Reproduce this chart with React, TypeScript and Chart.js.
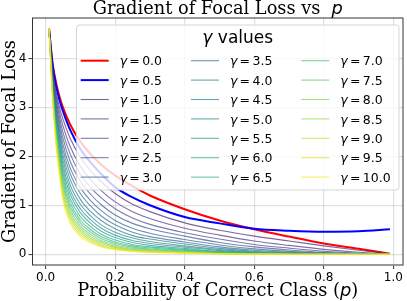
import React, { useEffect, useRef } from "react";
import { Chart, registerables } from "chart.js";

Chart.register(...registerables);

// ---- data ----
const pValues = [0.01, 0.02, 0.03, 0.04, 0.05, 0.07, 0.1, 0.13, 0.16, 0.2, 0.25, 0.3, 0.4, 0.5, 0.6, 0.7, 0.8, 0.9, 0.99];

const gammaLabels = ["0.0", "0.5", "1.0", "1.5", "2.0", "2.5", "3.0", "3.5", "4.0", "4.5", "5.0", "5.5", "6.0", "6.5", "7.0", "7.5", "8.0", "8.5", "9.0", "9.5", "10.0"];

const gamma00 = [4.61, 3.91, 3.51, 3.22, 3.0, 2.66, 2.3, 2.04, 1.83, 1.61, 1.39, 1.2, 0.92, 0.69, 0.51, 0.36, 0.22, 0.11, 0.01];
const gamma05 = [4.6, 3.87, 3.45, 3.15, 2.92, 2.55, 2.15, 1.87, 1.64, 1.37, 1.16, 1.0, 0.76, 0.63, 0.52, 0.48, 0.46, 0.47, 0.51];
const gamma10 = [4.6, 3.8, 3.33, 3.0, 2.76, 2.38, 1.98, 1.7, 1.48, 1.24, 1.02, 0.87, 0.64, 0.49, 0.37, 0.27, 0.17, 0.08, 0.005];
const gamma15 = [4.6, 3.76, 3.26, 2.9, 2.62, 2.21, 1.8, 1.52, 1.3, 1.07, 0.87, 0.73, 0.53, 0.39, 0.27, 0.18, 0.1, 0.04, 0.002];
const gamma20 = [4.6, 3.72, 3.19, 2.8, 2.49, 2.06, 1.64, 1.36, 1.15, 0.93, 0.74, 0.61, 0.44, 0.31, 0.2, 0.125, 0.061, 0.02, 0.001];
const gamma25 = [4.6, 3.69, 3.11, 2.7, 2.37, 1.91, 1.49, 1.22, 1.01, 0.8, 0.63, 0.52, 0.37, 0.24, 0.15, 0.085, 0.037, 0.01, 0];
const gamma30 = [4.6, 3.65, 3.05, 2.61, 2.25, 1.78, 1.36, 1.09, 0.89, 0.69, 0.53, 0.43, 0.3, 0.19, 0.11, 0.058, 0.022, 0.005, 0];
const gamma35 = [4.6, 3.61, 2.98, 2.52, 2.14, 1.66, 1.24, 0.98, 0.78, 0.6, 0.45, 0.36, 0.25, 0.15, 0.082, 0.039, 0.013, 0.003, 0];
const gamma40 = [4.6, 3.58, 2.91, 2.44, 2.03, 1.54, 1.12, 0.87, 0.69, 0.52, 0.38, 0.31, 0.21, 0.12, 0.061, 0.027, 0.008, 0.001, 0];
const gamma45 = [4.6, 3.54, 2.85, 2.36, 1.93, 1.43, 1.02, 0.78, 0.6, 0.45, 0.33, 0.26, 0.17, 0.094, 0.045, 0.018, 0.005, 0, 0];
const gamma50 = [4.6, 3.51, 2.79, 2.27, 1.83, 1.33, 0.93, 0.7, 0.53, 0.39, 0.28, 0.22, 0.144, 0.074, 0.033, 0.012, 0.003, 0, 0];
const gamma55 = [4.6, 3.47, 2.73, 2.2, 1.74, 1.24, 0.85, 0.63, 0.47, 0.34, 0.24, 0.18, 0.12, 0.059, 0.025, 0.008, 0.002, 0, 0];
const gamma60 = [4.6, 3.44, 2.67, 2.12, 1.65, 1.15, 0.77, 0.56, 0.41, 0.29, 0.2, 0.15, 0.099, 0.046, 0.018, 0.006, 0.001, 0, 0];
const gamma65 = [4.6, 3.4, 2.61, 2.05, 1.57, 1.07, 0.7, 0.5, 0.36, 0.25, 0.17, 0.128, 0.082, 0.037, 0.013, 0.004, 0.001, 0, 0];
const gamma70 = [4.6, 3.37, 2.55, 1.98, 1.49, 1.0, 0.64, 0.45, 0.32, 0.22, 0.145, 0.107, 0.068, 0.029, 0.01, 0.003, 0, 0, 0];
const gamma75 = [4.6, 3.33, 2.49, 1.91, 1.42, 0.93, 0.58, 0.4, 0.28, 0.19, 0.123, 0.09, 0.057, 0.023, 0.007, 0.002, 0, 0, 0];
const gamma80 = [4.6, 3.3, 2.44, 1.85, 1.35, 0.86, 0.53, 0.36, 0.25, 0.16, 0.105, 0.076, 0.047, 0.018, 0.005, 0.001, 0, 0, 0];
const gamma85 = [4.6, 3.27, 2.38, 1.79, 1.28, 0.8, 0.48, 0.32, 0.22, 0.14, 0.089, 0.064, 0.039, 0.014, 0.004, 0.001, 0, 0, 0];
const gamma90 = [4.6, 3.24, 2.33, 1.73, 1.21, 0.75, 0.44, 0.29, 0.19, 0.12, 0.076, 0.053, 0.032, 0.011, 0.003, 0.001, 0, 0, 0];
const gamma95 = [4.6, 3.2, 2.28, 1.67, 1.15, 0.69, 0.4, 0.26, 0.17, 0.105, 0.064, 0.045, 0.027, 0.009, 0.002, 0, 0, 0, 0];
const gamma100 = [4.6, 3.17, 2.23, 1.61, 1.1, 0.64, 0.36, 0.23, 0.15, 0.091, 0.055, 0.038, 0.022, 0.007, 0.002, 0, 0, 0, 0];

const seriesValues = [
  gamma00, gamma05, gamma10, gamma15, gamma20, gamma25, gamma30, gamma35, gamma40, gamma45, gamma50,
  gamma55, gamma60, gamma65, gamma70, gamma75, gamma80, gamma85, gamma90, gamma95, gamma100,
];

const xTicks = [0, 0.2, 0.4, 0.6, 0.8, 1.0];
const yTicks = [0, 1, 2, 3, 4];

// ---- styles ----
const thinColors = [
  [72, 36, 117], [70, 52, 128], [65, 68, 135], [59, 82, 139], [53, 95, 141], [47, 108, 142], [42, 120, 142],
  [37, 132, 142], [33, 145, 140], [30, 156, 137], [34, 168, 132], [47, 180, 124], [68, 191, 112], [94, 201, 98],
  [122, 209, 81], [155, 217, 60], [189, 223, 38], [223, 227, 24], [253, 231, 37],
];
const THIN_ALPHA = 0.7;
function colorFor(i: number): string {
  if (i === 0) return "#ff0000";
  if (i === 1) return "#0000ff";
  const c = thinColors[i - 2];
  return `rgba(${c[0]},${c[1]},${c[2]},${THIN_ALPHA})`;
}
function widthFor(i: number): number {
  return i < 2 ? 2 : 1.1;
}

const SERIF = '"DejaVu Serif", serif';
const SANS = '"DejaVu Sans", sans-serif';
const LABEL_SIZE = 17.8;

const CHART_LEFT = 32;
const CHART_RIGHT = 403.5;
const CHART_TOP = 17.5;
const CHART_BOTTOM = 265.5;

function drawParts(ctx: CanvasRenderingContext2D, parts: { t: string; f: string; gap?: number }[], x: number, y: number, align: "left" | "center") {
  let total = 0;
  const widths = parts.map((p) => {
    ctx.font = p.f;
    const w = ctx.measureText(p.t).width;
    total += w + (p.gap || 0);
    return w;
  });
  let cx = align === "center" ? x - total / 2 : x;
  ctx.textAlign = "left";
  parts.forEach((p, i) => {
    cx += p.gap || 0;
    ctx.font = p.f;
    ctx.fillText(p.t, cx, y);
    cx += widths[i];
  });
}

const framePlugin = {
  id: "frame",
  afterDatasetsDraw(chart: any) {
    const { ctx, chartArea } = chart;
    ctx.save();
    ctx.strokeStyle = "#333333";
    ctx.lineWidth = 1;
    ctx.strokeRect(chartArea.left + 0.5, chartArea.top + 0.5, chartArea.right - chartArea.left - 1, chartArea.bottom - chartArea.top - 1);
    ctx.restore();
  },
};

const textPlugin = {
  id: "texts",
  afterDraw(chart: any) {
    const ctx: CanvasRenderingContext2D = chart.ctx;
    const ca = chart.chartArea;
    const cx = (ca.left + ca.right) / 2;
    const cy = (ca.top + ca.bottom) / 2;
    ctx.save();
    ctx.fillStyle = "#000";
    ctx.textBaseline = "alphabetic";
    // title
    drawParts(ctx, [
      { t: "Gradient of Focal Loss vs", f: `${LABEL_SIZE}px ${SERIF}` },
      { t: "p", f: `italic ${LABEL_SIZE}px ${SANS}`, gap: 11 },
    ], cx, 13.5, "center");
    // x label
    drawParts(ctx, [
      { t: "Probability of Correct Class (", f: `${LABEL_SIZE}px ${SERIF}` },
      { t: "p", f: `italic ${LABEL_SIZE}px ${SANS}` },
      { t: ")", f: `${LABEL_SIZE}px ${SERIF}` },
    ], cx, 295.5, "center");
    // y label
    ctx.save();
    ctx.translate(15, cy);
    ctx.rotate(-Math.PI / 2);
    ctx.font = `${LABEL_SIZE}px ${SERIF}`;
    ctx.textAlign = "center";
    ctx.fillText("Gradient of Focal Loss", 0, 0);
    ctx.restore();

    // legend
    const bx = 76.5, by = 25, bw = 322.5, bh = 165, r = 3;
    ctx.beginPath();
    ctx.moveTo(bx + r, by);
    ctx.lineTo(bx + bw - r, by);
    ctx.arcTo(bx + bw, by, bx + bw, by + r, r);
    ctx.lineTo(bx + bw, by + bh - r);
    ctx.arcTo(bx + bw, by + bh, bx + bw - r, by + bh, r);
    ctx.lineTo(bx + r, by + bh);
    ctx.arcTo(bx, by + bh, bx, by + bh - r, r);
    ctx.lineTo(bx, by + r);
    ctx.arcTo(bx, by, bx + r, by, r);
    ctx.closePath();
    ctx.fillStyle = "rgba(255,255,255,0.8)";
    ctx.fill();
    ctx.strokeStyle = "rgba(204,204,204,0.8)";
    ctx.lineWidth = 1;
    ctx.stroke();

    ctx.fillStyle = "#000";
    drawParts(ctx, [
      { t: "\u03B3", f: `italic 17px ${SANS}` },
      { t: " values", f: `17px ${SANS}` },
    ], bx + bw / 2, 43, "center");

    const fs = 12.5;
    gammaLabels.forEach((g, i) => {
      const col = Math.floor(i / 7);
      const row = i % 7;
      const lx = 80.7 + col * 110.3;
      const ly = 60.7 + row * 19.4;
      ctx.beginPath();
      ctx.strokeStyle = colorFor(i);
      ctx.lineWidth = widthFor(i);
      ctx.moveTo(lx, ly);
      ctx.lineTo(lx + 28, ly);
      ctx.stroke();
      ctx.fillStyle = "#000";
      drawParts(ctx, [
        { t: "\u03B3", f: `italic ${fs}px ${SANS}` },
        { t: "=", f: `${fs}px ${SANS}`, gap: 2.2 },
        { t: g, f: `${fs}px ${SANS}`, gap: 2.4 },
      ], lx + 39, ly + 4.6, "left");
    });
    ctx.restore();
  },
};

export default function App() {
  const ref = useRef<HTMLCanvasElement | null>(null);
  useEffect(() => {
    if (!ref.current) return;
    const datasets = seriesValues.map((vals, i) => ({
      label: `gamma = ${gammaLabels[i]}`,
      data: vals.map((v, j) => ({ x: pValues[j], y: v })),
      borderColor: colorFor(i),
      backgroundColor: colorFor(i),
      borderWidth: widthFor(i),
      pointRadius: 0,
      fill: false,
      cubicInterpolationMode: "monotone" as const,
      order: seriesValues.length - i,
    }));
    const chart = new Chart(ref.current, {
      type: "line",
      data: { datasets },
      options: {
        animation: false,
        responsive: false,
        devicePixelRatio: 1,
        layout: { padding: { left: 0, right: 407 - CHART_RIGHT, top: CHART_TOP, bottom: 0 } },
        plugins: { legend: { display: false }, tooltip: { enabled: false }, title: { display: false } },
        scales: {
          x: {
            type: "linear",
            min: -0.039,
            max: 1.029,
            afterBuildTicks: (s: any) => { s.ticks = xTicks.map((v) => ({ value: v })); },
            afterFit: (s: any) => { s.height = 301 - CHART_BOTTOM; },
            ticks: {
              callback: (v: any) => Number(v).toFixed(1),
              font: { family: "DejaVu Sans", size: 12 },
              color: "#000",
              padding: 2,
              maxRotation: 0,
            },
            grid: { color: "rgba(0,0,0,0.12)", lineWidth: 1.2, tickLength: 3.5, tickColor: "#333", tickWidth: 1 },
            border: { display: false },
          },
          y: {
            type: "linear",
            min: -0.2303,
            max: 4.8354,
            afterBuildTicks: (s: any) => { s.ticks = yTicks.map((v) => ({ value: v })); },
            afterFit: (s: any) => { s.width = CHART_LEFT; },
            ticks: {
              callback: (v: any) => String(v),
              font: { family: "DejaVu Sans", size: 12 },
              color: "#000",
              padding: 2,
            },
            grid: { color: "rgba(0,0,0,0.12)", lineWidth: 1.2, tickLength: 3.5, tickColor: "#333", tickWidth: 1 },
            border: { display: false },
          },
        },
      },
      plugins: [framePlugin, textPlugin],
    });
    return () => chart.destroy();
  }, []);
  return (
    <div style={{ position: "fixed", left: 0, top: 0, width: 407, height: 301, background: "#fff" }}>
      <canvas ref={ref} width={407} height={301} style={{ display: "block", width: 407, height: 301 }} />
    </div>
  );
}
